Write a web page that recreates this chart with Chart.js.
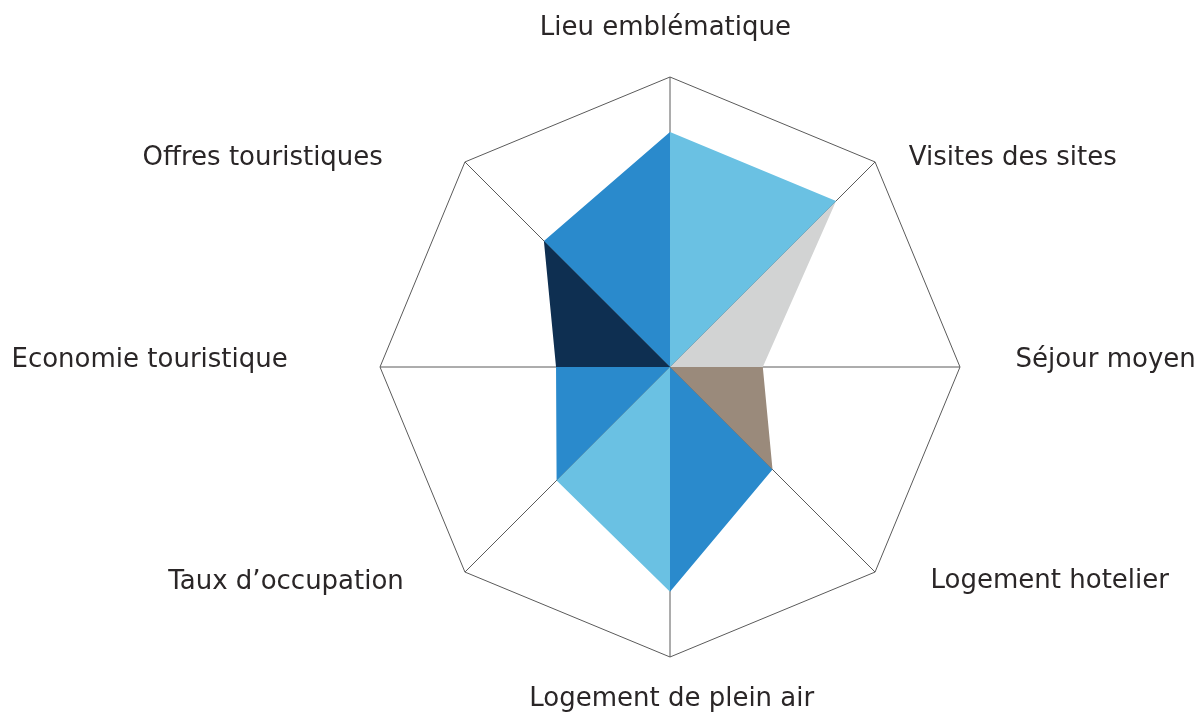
<!DOCTYPE html>
<html>
<head>
<meta charset="utf-8">
<script src="https://cdn.jsdelivr.net/npm/chart.js@4/dist/chart.umd.min.js"></script>
<style>
  html, body { margin: 0; padding: 0; background: #ffffff; }
  #wrap { width: 1200px; height: 713px; }
</style>
</head>
<body>
<div id="wrap"><canvas id="c" width="1200" height="713"></canvas></div>
<script>
const categories = [
  'Lieu emblématique',
  'Visites des sites',
  'Séjour moyen',
  'Logement hotelier',
  'Logement de plein air',
  'Taux d\u2019occupation',
  'Economie touristique',
  'Offres touristiques'
];
const values = [0.81, 0.81, 0.32, 0.50, 0.775, 0.553, 0.393, 0.615];
const wedgeColors = ['#6AC1E3', '#D2D3D3', '#9A8A7B', '#2A8ACC', '#6AC1E3', '#2A8ACC', '#0E2F51', '#2A8ACC'];
const scaleMin = 0;
const scaleMax = 1;

const n = categories.length;
const datasets = wedgeColors.map((color, i) => ({
  label: categories[i],
  data: categories.map((_, j) => (j === i || j === (i + 1) % n) ? values[j] : 0),
  backgroundColor: color,
  borderWidth: 0,
  pointRadius: 0,
  fill: true
}));

// label placement relative to each outer vertex: [dx, dy]
const labelOffsets = [
  [-4.6, -41.7], [137.7, 2.6], [145.7, 0.3], [174.7, 16],
  [1.7, 49.4], [-178.9, 17], [-230.4, 0.3], [-202.2, 2.6]
];

const labelPlugin = {
  id: 'labelPlugin',
  afterDraw(chart) {
    const s = chart.scales.r;
    const ctx = chart.ctx;
    ctx.save();
    ctx.font = '400 26px "DejaVu Sans", sans-serif';
    ctx.fillStyle = '#2a2627';
    ctx.textAlign = 'center';
    ctx.textBaseline = 'alphabetic';
    categories.forEach((lab, i) => {
      const p = s.getPointPosition(i, s.drawingArea);
      ctx.fillText(lab, p.x + labelOffsets[i][0], p.y + labelOffsets[i][1]);
    });
    ctx.restore();
  }
};

new Chart(document.getElementById('c'), {
  type: 'radar',
  data: { labels: categories, datasets },
  options: {
    responsive: false,
    animation: false,
    layout: { padding: { left: 380, right: 240, top: 77, bottom: 56 } },
    plugins: { legend: { display: false }, tooltip: { enabled: false } },
    elements: { line: { tension: 0 } },
    scales: {
      r: {
        min: scaleMin,
        max: scaleMax,
        ticks: { display: false, stepSize: 1 },
        pointLabels: { display: false },
        grid: { color: '#5a5a5a', lineWidth: 1 },
        angleLines: { color: '#5a5a5a', lineWidth: 1 }
      }
    }
  },
  plugins: [labelPlugin]
});
</script>
</body>
</html>
